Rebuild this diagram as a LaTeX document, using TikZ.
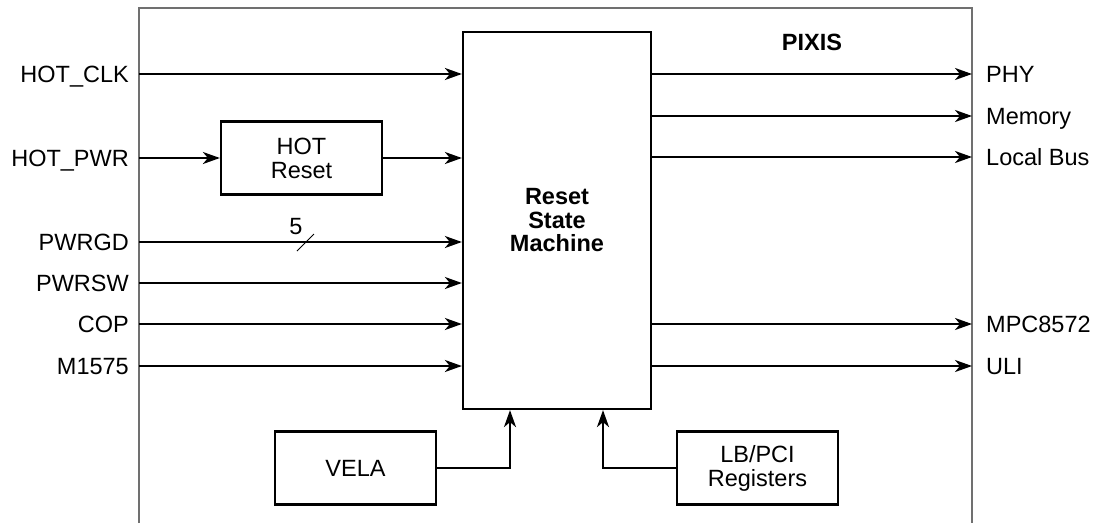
\documentclass[tikz,border=0pt]{standalone}
\usepackage{fontspec}
\setmainfont{Liberation Sans}
\usetikzlibrary{arrows.meta,calc}
\definecolor{outerc}{RGB}{112,112,112}
\begin{document}
\begin{tikzpicture}[x=1pt,y=-1pt,
  font=\fontsize{23.5}{24}\selectfont,
  blk/.style={draw, line width=2.2pt, minimum width=161pt, minimum height=73pt, align=center, inner sep=0pt},
  arr/.style={line width=2.2pt, -{Stealth[length=17pt,width=12pt,inset=5pt]}},
  lbl/.style={inner sep=0pt, text height=16.8pt, text depth=0pt},
  llbl/.style={lbl, anchor=east},
  rlbl/.style={lbl, anchor=west}]
\useasboundingbox (0,0) rectangle (1094,523);
% outer frame (open at bottom)
\draw[line width=2.2pt, draw=outerc] (139,523) -- (139,8) -- (972,8) -- (972,523);
\coordinate (L) at (139,0);
\coordinate (R) at (972,0);
% main block
\node[draw, line width=2.2pt, minimum width=188pt, minimum height=377pt, align=center, font=\fontsize{23.5}{23.5}\selectfont\bfseries] (rsm) at (557,220.5) {Reset\\State\\Machine};
\node[font=\fontsize{23.5}{24}\selectfont\bfseries, inner sep=0pt] (pixis) at (812,42) {PIXIS};
% left labels
\node[llbl] (hotclk) at (129,74) {HOT\_CLK};
\node[llbl] (hotpwr) at (129,158) {HOT\_PWR};
\node[llbl] (pwrgd) at (129,242) {PWRGD};
\node[llbl] (pwrsw) at (129,283) {PWRSW};
\node[llbl] (cop) at (129,324) {COP};
\node[llbl] (m1575) at (129,366) {M1575};
% right labels
\node[rlbl] (phy) at (986,74) {PHY};
\node[rlbl] (mem) at (986,116) {Memory};
\node[rlbl] (lbus) at (986,157) {Local Bus};
\node[rlbl] (mpc) at (986,324) {MPC8572};
\node[rlbl] (uli) at (986,366) {ULI};
% blocks
\node[blk] (hotrst) at (301.5,158) {HOT\\Reset};
\node[blk] (vela) at (355.5,468) {VELA};
\node[blk] (lbpci) at (757.5,468) {LB/PCI\\Registers};
% left connectors
\draw[arr] (hotclk.east -| L) -- (hotclk.east -| rsm.west);
\draw[arr] (hotpwr.east -| L) -- (hotrst.west);
\draw[arr] (hotrst.east) -- (hotrst.east -| rsm.west);
\draw[arr] (pwrgd.east -| L) -- (pwrgd.east -| rsm.west);
\draw[arr] (pwrsw.east -| L) -- (pwrsw.east -| rsm.west);
\draw[arr] (cop.east -| L) -- (cop.east -| rsm.west);
\draw[arr] (m1575.east -| L) -- (m1575.east -| rsm.west);
% bus width marker
\coordinate (bm) at (305.5,242.5);
\draw[line width=0.8pt] ($(bm)+(-8.5,8.5)$) -- ($(bm)+(8.5,-8.5)$);
\node[inner sep=0pt] (five) at (296,227) {5};
% right connectors
\draw[arr] (phy.west -| rsm.east) -- (phy.west -| R);
\draw[arr] (mem.west -| rsm.east) -- (mem.west -| R);
\draw[arr] (lbus.west -| rsm.east) -- (lbus.west -| R);
\draw[arr] (mpc.west -| rsm.east) -- (mpc.west -| R);
\draw[arr] (uli.west -| rsm.east) -- (uli.west -| R);
% bottom connectors
\coordinate (va) at (510,0);
\coordinate (lb) at (603,0);
\draw[arr] (vela.east) -| (va |- rsm.south);
\draw[arr] (lbpci.west) -| (lb |- rsm.south);
\end{tikzpicture}
\end{document}
